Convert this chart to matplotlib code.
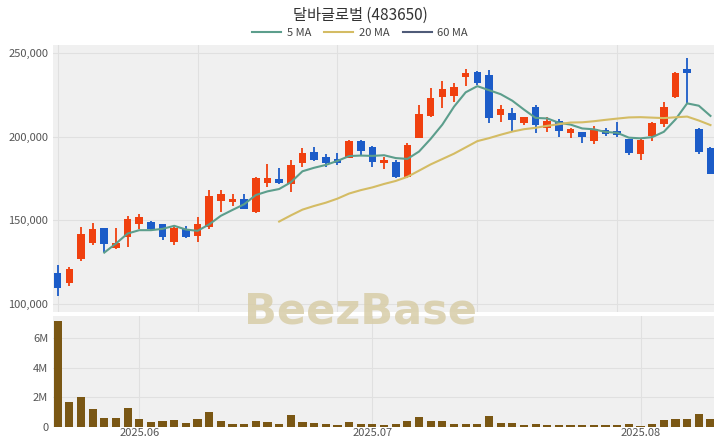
import numpy as np
import pandas as pd
import matplotlib
matplotlib.use("Agg")
import matplotlib.pyplot as plt
from matplotlib.ticker import MultipleLocator, FuncFormatter

plt.rcParams['font.family'] = ['Noto Sans CJK KR', 'DejaVu Sans']

# 일봉 데이터 (단위: 천원)
opens = [118.5, 112.5, 127, 136.5, 145.5, 133.5, 140, 148, 149, 148,
         137, 145, 140.5, 146, 161.5, 161, 163, 155, 172.5, 174.5,
         172, 184.5, 191, 188, 186.5, 187, 197.5, 194, 184, 185,
         176, 199, 212.5, 224, 224.5, 235.5, 238.5, 237, 213, 214,
         208, 217.5, 205, 209.5, 202, 203, 197.5, 204, 203.5, 198.5,
         189.5, 200.5, 207.5, 223.5, 240.5, 204.5, 193]
highs = [123, 122, 146, 148.5, 145.5, 145.5, 152.5, 154, 149.5, 148,
         146, 146.5, 152, 168, 168, 166, 165.5, 176, 183.5, 181,
         186, 193, 194, 189.5, 190, 198, 198, 194.5, 188, 186,
         196, 219, 229, 233, 232, 240.5, 239, 240, 219, 217,
         212, 219, 212, 210.5, 205, 203, 206.5, 205, 209, 198.5,
         199, 209, 220.5, 238.5, 247, 205, 194]
lows = [105, 111, 125.5, 135, 131, 133, 134, 145, 144.5, 138,
        135, 139.5, 137, 145, 155, 158.5, 156.5, 154.5, 170, 172,
        167, 182, 185.5, 182, 183, 187, 189, 182, 180.5, 175.5,
        175.5, 199, 212, 217, 221, 230, 231, 208, 209, 203,
        207, 202, 203, 200, 199, 196, 195.5, 200.5, 200, 189,
        186, 197.5, 206, 223, 220, 189.5, 177.5]
closes = [109.5, 121, 142, 145, 136, 136.5, 151, 152, 145, 140,
          145.5, 140, 148, 164.5, 165.5, 163, 157, 175.5, 175.5, 172.5,
          183, 190, 186, 184, 184.5, 197.5, 191.5, 185, 186, 176,
          195, 213.5, 223, 228.5, 229.5, 238, 232, 211, 216.5, 210,
          211.5, 207, 209.5, 203.5, 204.5, 200, 204.5, 201.5, 201, 190,
          198, 208, 217.5, 238, 238, 191, 177.5]
# 거래량 (백만주)
volumes = [7.16, 1.67, 2.0, 1.18, 0.6, 0.62, 1.27, 0.56, 0.31, 0.38,
           0.47, 0.24, 0.51, 1.02, 0.4, 0.2, 0.18, 0.4, 0.31, 0.22,
           0.8, 0.33, 0.24, 0.18, 0.16, 0.36, 0.2, 0.2, 0.13, 0.22,
           0.42, 0.67, 0.4, 0.38, 0.2, 0.2, 0.2, 0.71, 0.24, 0.27,
           0.11, 0.18, 0.13, 0.16, 0.11, 0.13, 0.11, 0.11, 0.11, 0.18,
           0.07, 0.18, 0.44, 0.51, 0.53, 0.87, 0.56]

dates = pd.bdate_range('2025-05-22', periods=len(closes), freq='C',
                       holidays=['2025-06-03'])

o = np.array(opens) * 1000
h = np.array(highs) * 1000
l = np.array(lows) * 1000
c = np.array(closes) * 1000
v = np.array(volumes) * 1e6
x = np.arange(len(c))

ma5 = pd.Series(c).rolling(5).mean()
ma20 = pd.Series(c).rolling(20).mean()
ma60 = pd.Series(c).rolling(60).mean()

UP = '#f0400f'
DOWN = '#1c5cc8'
BG = '#f0f0f0'
GRID = '#e0e0e0'

fig = plt.figure(figsize=(7.2, 4.48), dpi=100)
ax = fig.add_axes([0.0736, 0.3036, 0.918, 0.596])
axv = fig.add_axes([0.0736, 0.047, 0.918, 0.248])

for a in (ax, axv):
    a.set_facecolor(BG)
    for s in a.spines.values():
        s.set_visible(False)
    a.tick_params(length=0, labelsize=8, colors='#555555')
    a.grid(True, color=GRID, linewidth=0.8)
    a.set_axisbelow(True)
    a.set_xlim(-0.4, 56.3)

up = c >= o
col = np.where(up, UP, DOWN)
ax.vlines(x, l, h, colors=col, linewidth=1.3, zorder=2)
ax.bar(x, np.abs(c - o), bottom=np.minimum(o, c), width=0.65,
       color=col, zorder=3)

l5, = ax.plot(x, ma5, color='#5c9e8c', linewidth=1.5, zorder=4)
l20, = ax.plot(x, ma20, color='#d4bc64', linewidth=1.5, zorder=4)
l60, = ax.plot(x, ma60, color='#4f5b78', linewidth=1.5, zorder=4)

ax.set_ylim(95200, 254800)
ax.set_yticks([100000, 150000, 200000, 250000])
ax.yaxis.set_major_formatter(FuncFormatter(lambda val, p: f'{val:,.0f}'))
ax.xaxis.set_major_locator(MultipleLocator(12))
ax.set_xticklabels([])

axv.bar(x, v, width=0.7, color='#7a5714', zorder=3)
axv.set_ylim(0, 7.5e6)
axv.set_yticks([0, 2e6, 4e6, 6e6])
axv.yaxis.set_major_formatter(
    FuncFormatter(lambda val, p: f'{val/1e6:.0f}M' if val else '0'))
month_idx = [i for i in range(1, len(dates)) if dates[i].month != dates[i - 1].month]
axv.set_xticks(month_idx)
axv.set_xticklabels([dates[i].strftime('%Y.%m') for i in month_idx])
axv.tick_params(axis='x', pad=1)

fig.text(0.5, 0.965, '달바글로벌 (483650)', ha='center', va='center',
         fontsize=11, color='#333333')
fig.legend([l5, l20, l60], ['5 MA', '20 MA', '60 MA'], loc='center',
           bbox_to_anchor=(0.5, 0.927), ncol=3, frameon=False, fontsize=8,
           handlelength=2.6, columnspacing=1.2, handletextpad=0.5,
           labelcolor='#444444')
fig.text(0.5, 0.305, 'BeezBase', ha='center', va='center', fontsize=31,
         fontweight='bold', color='#d8cda8', alpha=0.85, zorder=0,
         family='DejaVu Sans')

fig.savefig('out.png', dpi=100, facecolor='white')
